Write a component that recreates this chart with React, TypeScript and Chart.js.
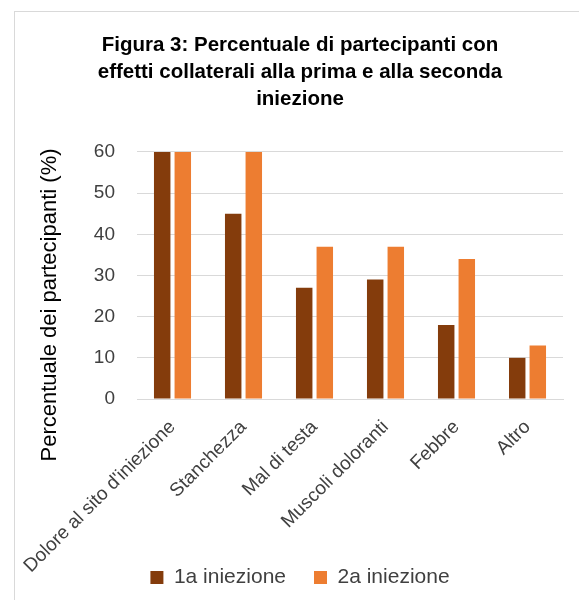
import React, { useEffect, useRef } from "react";
import { Chart, registerables } from "chart.js";

Chart.register(...registerables);

const categories = [
  "Dolore al sito d'iniezione",
  "Stanchezza",
  "Mal di testa",
  "Muscoli doloranti",
  "Febbre",
  "Altro",
];
const prima = [60, 45, 27, 29, 18, 10];
const seconda = [60, 60, 37, 37, 34, 13];
const titleLines = [
  "Figura 3: Percentuale di partecipanti con",
  "effetti collaterali alla prima e alla seconda",
  "iniezione",
];
const yTitle = "Percentuale dei partecipanti (%)";
const FONT = "'Liberation Sans', Arial, sans-serif";

const yTitlePlugin = {
  id: "yTitleCustom",
  afterDraw(chart: any) {
    const ctx = chart.ctx;
    ctx.save();
    ctx.translate(35, 293);
    ctx.rotate(-Math.PI / 2);
    ctx.font = `22px ${FONT}`;
    ctx.fillStyle = "#000";
    ctx.textAlign = "center";
    ctx.textBaseline = "middle";
    ctx.fillText(yTitle, 0, 0);
    ctx.restore();
  },
};

export default function App() {
  const ref = useRef<HTMLCanvasElement | null>(null);
  useEffect(() => {
    document.body.style.overflow = "hidden";
    const chart = new Chart(ref.current!, {
      type: "bar",
      data: {
        labels: categories,
        datasets: [
          {
            label: "1a iniezione",
            data: prima,
            backgroundColor: "#843C0C",
            categoryPercentage: 0.58,
            barPercentage: 0.8,
          },
          {
            label: "2a iniezione",
            data: seconda,
            backgroundColor: "#ED7D31",
            categoryPercentage: 0.58,
            barPercentage: 0.8,
          },
        ],
      },
      plugins: [yTitlePlugin],
      options: {
        animation: false,
        responsive: false,
        layout: { padding: { left: 5, right: 0, top: 0, bottom: 0 } },
        plugins: {
          title: {
            display: true,
            text: titleLines,
            color: "#000",
            font: { family: FONT, size: 20.5, weight: "bold", lineHeight: 1.317 },
            padding: { top: 20, bottom: 39 },
          },
          legend: {
            position: "bottom",
            labels: {
              color: "#404040",
              font: { family: FONT, size: 21 },
              boxWidth: 13,
              boxHeight: 13,
              padding: 28,
            },
          },
          tooltip: { enabled: false },
        },
        scales: {
          x: {
            grid: { display: false },
            border: { display: true, color: "#d9d9d9", width: 1 },
            ticks: {
              color: "#404040",
              font: { family: FONT, size: 19 },
              maxRotation: 45,
              minRotation: 45,
              padding: 9,
            },
            afterFit: (scale: any) => {
              scale.height = 140;
              scale.paddingLeft = 0;
              scale.paddingRight = 0;
              scale._computeLabelArea = () => undefined;
            },
          },
          y: {
            min: 0,
            max: 60,
            ticks: {
              stepSize: 10,
              color: "#404040",
              font: { family: FONT, size: 19 },
              padding: 22,
            },
            grid: { color: "#d9d9d9", drawTicks: false },
            border: { display: false },
            afterFit: (scale: any) => {
              scale.width = 117;
            },
          },
          yRight: {
            position: "right",
            min: 0,
            max: 60,
            ticks: { display: false },
            grid: { display: false },
            border: { display: false },
            afterFit: (scale: any) => {
              scale.width = 17;
            },
          },
        },
      },
    });
    return () => chart.destroy();
  }, []);
  return (
    <div
      style={{
        position: "absolute",
        left: 14,
        top: 11,
        width: 566,
        height: 606,
        border: "1px solid #d9d9d9",
        boxSizing: "border-box",
        background: "#fff",
      }}
    >
      <canvas ref={ref} width={565} height={586} style={{ display: "block" }} />
    </div>
  );
}
